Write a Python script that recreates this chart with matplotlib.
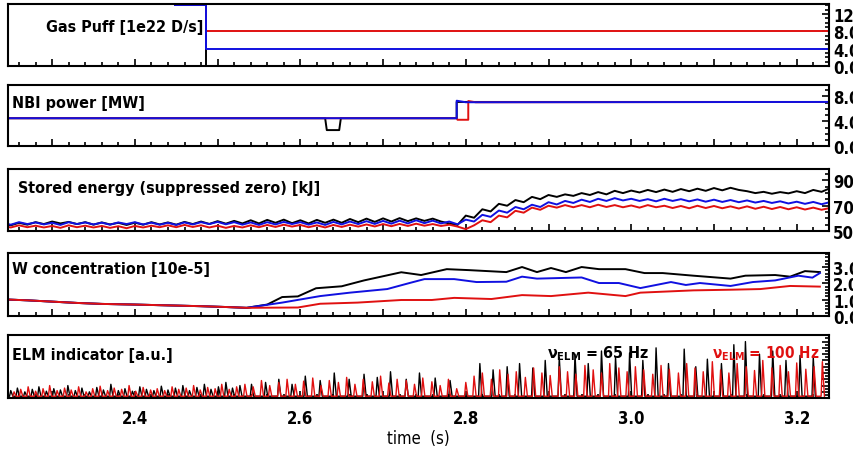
import numpy as np
import matplotlib
matplotlib.use("Agg")
import matplotlib.pyplot as plt
from matplotlib import font_manager
from matplotlib.ticker import MultipleLocator, FuncFormatter, FormatStrFormatter

# narrow bold face if one is installed, else Liberation Sans
narrow = [f.name for f in font_manager.fontManager.ttflist
          if f.stretch in ('condensed', 'semi-condensed', 'extra-condensed')
          and f.name in ('DejaVu Sans', 'Noto Sans', 'Liberation Sans Narrow',
                         'Open Sans', 'Roboto', 'Inter')]
if narrow:
    plt.rcParams['font.family'] = [narrow[0], 'DejaVu Sans']
    plt.rcParams['font.stretch'] = 'condensed'
    plt.rcParams['mathtext.fontset'] = 'custom'
    plt.rcParams['mathtext.bf'] = narrow[0] + ':bold:stretch=condensed'
    plt.rcParams['mathtext.it'] = narrow[0] + ':bold:stretch=condensed'
    FS = 12
else:
    plt.rcParams['font.family'] = ['Liberation Sans', 'DejaVu Sans']
    FS = 11
plt.rcParams['font.weight'] = 'bold'
plt.rcParams['mathtext.default'] = 'bf'
LFS = FS - 0.5

# ---- gas puff [1e22 D/s] ----
puff_t = [2.448, 2.486, 2.486, 3.25]
puff_black = [14.1, 14.1, 0.0, 0.0]
puff_red = [14.1, 14.1, 8.0, 8.0]
puff_blue = [14.1, 14.1, 3.9, 3.9]

# ---- NBI power [MW] ----
nbi_black_t = [2.20, 2.630, 2.632, 2.647, 2.649, 2.789, 2.789, 3.25]
nbi_black = [4.5, 4.5, 2.6, 2.6, 4.5, 4.5, 7.1, 7.1]
nbi_blue_t = [2.20, 2.789, 2.789, 2.80, 3.25]
nbi_blue = [4.5, 4.5, 7.3, 7.05, 7.1]
nbi_red_t = [2.20, 2.789, 2.790, 2.803, 2.803, 2.812, 3.25]
nbi_red = [4.5, 4.5, 4.25, 4.25, 7.25, 7.05, 7.1]

# ---- stored energy [kJ], sampled every 10 ms from 2.24 s ----
wmhd_t = np.linspace(2.24, 3.24, 101)
wmhd_black = [560, 545, 565, 550, 570, 555, 575, 560, 572, 555,
              570, 550, 568, 552, 565, 548, 566, 550, 570, 552,
              568, 550, 572, 555, 575, 556, 578, 558, 580, 560,
              585, 560, 588, 565, 590, 562, 585, 560, 588, 565,
              590, 565, 595, 570, 598, 572, 600, 575, 602, 578,
              600, 580, 598, 575, 560, 548, 622, 605, 672, 655,
              715, 700, 745, 728, 770, 752, 785, 770, 790, 778,
              800, 785, 808, 790, 818, 800, 820, 805, 825, 808,
              828, 810, 832, 815, 835, 818, 840, 822, 842, 825,
              815, 800, 810, 795, 808, 798, 815, 800, 825, 810, 838]
wmhd_blue = [565, 550, 570, 555, 568, 552, 565, 548, 570, 555,
             568, 552, 566, 550, 568, 555, 570, 552, 566, 550,
             565, 548, 568, 552, 570, 555, 572, 553, 570, 550,
             568, 548, 570, 552, 572, 555, 570, 550, 568, 548,
             572, 552, 575, 555, 578, 556, 580, 558, 582, 560,
             585, 562, 582, 560, 575, 553, 590, 575, 628, 612,
             662, 645, 690, 672, 708, 690, 728, 710, 738, 722,
             748, 730, 755, 738, 760, 742, 755, 738, 752, 735,
             755, 738, 752, 735, 750, 732, 748, 730, 745, 728,
             742, 725, 738, 722, 735, 718, 732, 715, 730, 712, 728]
wmhd_red = [540, 528, 545, 530, 542, 528, 540, 525, 545, 530,
            542, 528, 540, 525, 538, 522, 540, 528, 542, 530,
            545, 530, 548, 532, 545, 528, 542, 525, 540, 528,
            545, 530, 548, 532, 550, 535, 548, 530, 545, 528,
            548, 532, 550, 535, 552, 536, 555, 538, 556, 540,
            558, 542, 555, 540, 550, 535, 515, 545, 585, 570,
            622, 608, 660, 645, 685, 668, 700, 685, 705, 688,
            705, 688, 708, 690, 705, 688, 702, 685, 705, 688,
            700, 682, 698, 680, 700, 682, 698, 680, 695, 678,
            695, 676, 692, 674, 690, 672, 688, 670, 685, 668, 682]
wmhd_ticks = [500, 700, 900]

# ---- W concentration [10e-5] ----
w_base_t = [2.24, 2.27, 2.30, 2.33, 2.36, 2.40, 2.44, 2.48, 2.51, 2.535]
w_base = [1.02, 0.96, 0.88, 0.80, 0.74, 0.70, 0.65, 0.60, 0.55, 0.50]
w_black_t = [2.560, 2.578, 2.597, 2.619, 2.650, 2.677, 2.722, 2.746, 2.777,
             2.804, 2.849, 2.868, 2.886, 2.903, 2.921, 2.940, 2.961, 2.993,
             3.016, 3.038, 3.075, 3.120, 3.138, 3.174, 3.192, 3.210, 3.228]
w_black = [0.70, 1.16, 1.20, 1.70, 1.82, 2.18, 2.68, 2.51, 2.87,
           2.81, 2.69, 3.00, 2.69, 2.94, 2.69, 3.00, 2.87, 2.87,
           2.63, 2.63, 2.47, 2.29, 2.47, 2.51, 2.41, 2.75, 2.69]
w_blue_t = [2.578, 2.624, 2.660, 2.705, 2.732, 2.750, 2.786, 2.813, 2.849,
            2.868, 2.886, 2.940, 2.961, 2.985, 3.011, 3.048, 3.066, 3.083,
            3.120, 3.147, 3.174, 3.202, 3.219, 3.228]
w_blue = [0.82, 1.22, 1.43, 1.65, 2.02, 2.26, 2.26, 2.08, 2.10,
          2.41, 2.29, 2.36, 2.02, 2.02, 1.71, 2.08, 1.90, 2.02,
          1.84, 2.08, 2.18, 2.47, 2.35, 2.63]
w_red_t = [2.597, 2.624, 2.669, 2.722, 2.759, 2.786, 2.831, 2.868, 2.903,
           2.948, 2.993, 3.011, 3.075, 3.120, 3.156, 3.192, 3.228]
w_red = [0.52, 0.75, 0.82, 0.98, 0.98, 1.11, 1.04, 1.28, 1.22,
         1.43, 1.22, 1.43, 1.57, 1.61, 1.65, 1.84, 1.80]

# ---- ELM indicator [a.u.] ----
elm_black_t = [2.250, 2.258, 2.267, 2.276, 2.284, 2.293, 2.302, 2.310, 2.319, 2.328,
               2.336, 2.345, 2.354, 2.362, 2.371, 2.380, 2.388, 2.397, 2.406, 2.414,
               2.423, 2.432, 2.440, 2.449, 2.458, 2.466, 2.475, 2.484, 2.492, 2.501,
               2.510, 2.518, 2.527, 2.541, 2.558, 2.574, 2.590, 2.606, 2.624, 2.641,
               2.659, 2.677, 2.693, 2.709, 2.728, 2.744, 2.763, 2.781, 2.817, 2.833,
               2.850, 2.865, 2.881, 2.896, 2.913, 2.932, 2.948, 2.964, 2.981, 2.998,
               3.014, 3.030, 3.045, 3.064, 3.078, 3.092, 3.109, 3.124, 3.138, 3.155,
               3.171, 3.187, 3.204, 3.220]
elm_black = [0.12, 0.16, 0.10, 0.14, 0.18, 0.11, 0.15, 0.13, 0.20, 0.12,
             0.16, 0.10, 0.17, 0.13, 0.22, 0.12, 0.15, 0.11, 0.18, 0.14,
             0.12, 0.19, 0.13, 0.16, 0.20, 0.12, 0.17, 0.22, 0.14, 0.18,
             0.25, 0.16, 0.20, 0.22, 0.25, 0.30, 0.22, 0.35, 0.28, 0.40,
             0.30, 0.38, 0.33, 0.42, 0.30, 0.40, 0.32, 0.28, 0.55, 0.45,
             0.50, 0.55, 0.48, 0.60, 0.65, 0.70, 0.55, 0.75, 0.65, 0.72,
             0.60, 0.80, 0.55, 0.78, 0.50, 0.62, 0.55, 0.85, 0.90, 0.70,
             0.75, 0.60, 0.68, 0.65]
elm_red_t = [2.254, 2.262, 2.271, 2.280, 2.289, 2.297, 2.306, 2.315, 2.323, 2.332,
             2.341, 2.349, 2.358, 2.367, 2.375, 2.384, 2.393, 2.401, 2.410, 2.419,
             2.427, 2.436, 2.445, 2.453, 2.462, 2.471, 2.479, 2.488, 2.497, 2.505,
             2.514, 2.523,
             2.533, 2.543, 2.553, 2.563, 2.574, 2.584, 2.594, 2.604, 2.615, 2.625,
             2.635, 2.646, 2.656, 2.666, 2.676, 2.687, 2.697, 2.707, 2.717, 2.728,
             2.738, 2.748, 2.759, 2.769, 2.779, 2.789, 2.800, 2.810, 2.820, 2.831,
             2.841, 2.851, 2.861, 2.872, 2.882, 2.892, 2.902, 2.913, 2.923, 2.933,
             2.944, 2.954, 2.964, 2.974, 2.985, 2.995, 3.005, 3.015, 3.026, 3.036,
             3.046, 3.057, 3.067, 3.077, 3.087, 3.098, 3.108, 3.118, 3.128, 3.139,
             3.149, 3.159, 3.170, 3.180, 3.190, 3.200, 3.211, 3.221, 3.231]
elm_red = [0.10, 0.14, 0.18, 0.11, 0.15, 0.20, 0.12, 0.16, 0.13, 0.18,
           0.10, 0.15, 0.19, 0.12, 0.16, 0.14, 0.20, 0.11, 0.17, 0.13,
           0.15, 0.12, 0.18, 0.14, 0.16, 0.20, 0.13, 0.17, 0.15, 0.22,
           0.14, 0.18,
           0.22, 0.18, 0.28, 0.20, 0.25, 0.30, 0.22, 0.27, 0.32, 0.20,
           0.28, 0.25, 0.33, 0.22, 0.30, 0.26, 0.35, 0.24, 0.30, 0.28,
           0.22, 0.32, 0.26, 0.20, 0.30, 0.15, 0.25, 0.35, 0.40, 0.30,
           0.45, 0.38, 0.42, 0.33, 0.48, 0.40, 0.36, 0.50, 0.42, 0.38,
           0.52, 0.45, 0.40, 0.55, 0.48, 0.42, 0.50, 0.45, 0.38, 0.52,
           0.46, 0.40, 0.55, 0.48, 0.42, 0.58, 0.45, 0.40, 0.55, 0.50,
           0.44, 0.60, 0.48, 0.52, 0.42, 0.56, 0.46, 0.50, 0.58]

BLUE = '#1010e0'
RED = '#e01010'
XMIN, XMAX = 2.247, 3.239
LW = 1.4


def spikes(t, h, base=0.03):
    # each ELM drawn as a narrow peak on the baseline
    t = np.asarray(t)
    h = np.asarray(h)
    xs = np.column_stack([t - 0.0015, t, t + 0.0025]).ravel()
    ys = np.column_stack([np.full_like(h, base), h, np.full_like(h, base)]).ravel()
    return xs, ys


def style(ax, ymin, ymax, major, minor, fmt, labels=True):
    ax.set_xlim(XMIN, XMAX)
    ax.set_ylim(ymin, ymax)
    for s in ax.spines.values():
        s.set_linewidth(1.5)
    ax.xaxis.set_major_locator(MultipleLocator(0.1))
    ax.xaxis.set_minor_locator(MultipleLocator(0.02))
    ax.yaxis.tick_right()
    ax.yaxis.set_major_locator(MultipleLocator(major))
    ax.yaxis.set_minor_locator(MultipleLocator(minor))
    if fmt:
        ax.yaxis.set_major_formatter(FormatStrFormatter(fmt))
    ax.tick_params(which='both', direction='in', top=False, left=False,
                   right=True, bottom=True, labelbottom=False,
                   labelright=labels, labelsize=FS, pad=3, width=1.2)
    ax.tick_params(which='major', length=5)
    ax.tick_params(which='minor', length=3)


fig = plt.figure(figsize=(8.54, 4.52), dpi=100)
L, W = 0.0097, 0.9610

ax1 = fig.add_axes([L, 0.852, W, 0.137])
ax1.plot(puff_t, puff_black, color='k', lw=LW)
ax1.plot(puff_t, puff_red, color=RED, lw=LW)
ax1.plot(puff_t, puff_blue, color=BLUE, lw=LW)
style(ax1, 0, 14.3, 4, 1, '%.1f')
ax1.text(0.046, 0.63, 'Gas Puff [1e22 D/s]', transform=ax1.transAxes,
         fontsize=LFS, va='center')

ax2 = fig.add_axes([L, 0.674, W, 0.1356])
ax2.plot(nbi_black_t, nbi_black, color='k', lw=LW)
ax2.plot(nbi_red_t, nbi_red, color=RED, lw=LW)
ax2.plot(nbi_blue_t, nbi_blue, color=BLUE, lw=LW)
style(ax2, 0, 9.8, 4, 1, '%.1f')
ax2.text(0.005, 0.72, 'NBI power [MW]', transform=ax2.transAxes,
         fontsize=LFS, va='center')

ax3 = fig.add_axes([L, 0.4867, W, 0.137])
ax3.plot(wmhd_t, wmhd_black, color='k', lw=LW)
ax3.plot(wmhd_t, wmhd_blue, color=BLUE, lw=LW)
ax3.plot(wmhd_t, wmhd_red, color=RED, lw=LW)
style(ax3, 500, 990, 200, 50, '%d')
ax3.set_yticks(wmhd_ticks)
ax3.text(0.012, 0.7, 'Stored energy (suppressed zero) [kJ]',
         transform=ax3.transAxes, fontsize=LFS, va='center')

ax4 = fig.add_axes([L, 0.2987, W, 0.139])
ax4.plot(w_base_t + w_black_t, w_base + w_black, color='k', lw=LW)
ax4.plot(w_base_t + w_blue_t, w_base + w_blue, color=BLUE, lw=LW)
ax4.plot(w_base_t + w_red_t, w_base + w_red, color=RED, lw=LW)
style(ax4, 0, 3.85, 1, 0.2, '%.1f')
ax4.text(0.005, 0.76, 'W concentration [10e-5]', transform=ax4.transAxes,
         fontsize=LFS, va='center')

ax5 = fig.add_axes([L, 0.117, W, 0.139])
bx, by = spikes(elm_black_t, elm_black)
rx, ry = spikes(elm_red_t, elm_red)
ax5.plot(bx, by, color='k', lw=1.0)
ax5.plot(rx, ry, color=RED, lw=1.0)
style(ax5, 0, 1.0, 0.1, 0.05, None, labels=False)
ax5.tick_params(labelbottom=True, labelsize=FS, pad=8)
ax5.xaxis.set_major_formatter(FuncFormatter(
    lambda v, p: '%.1f' % v if round(v * 10) % 2 == 0 else ''))
ax5.set_xlabel('time  (s)', fontsize=FS, labelpad=1)
ax5.text(0.005, 0.70, 'ELM indicator [a.u.]', transform=ax5.transAxes,
         fontsize=LFS, va='center')
ax5.text(0.656, 0.73, r'$\nu_{ELM}$ = 65 Hz', transform=ax5.transAxes,
         fontsize=LFS, va='center', color='k')
ax5.text(0.857, 0.73, r'$\nu_{ELM}$ = 100 Hz', transform=ax5.transAxes,
         fontsize=LFS - 0.5, va='center', color=RED)

fig.savefig('out.png', dpi=100)
